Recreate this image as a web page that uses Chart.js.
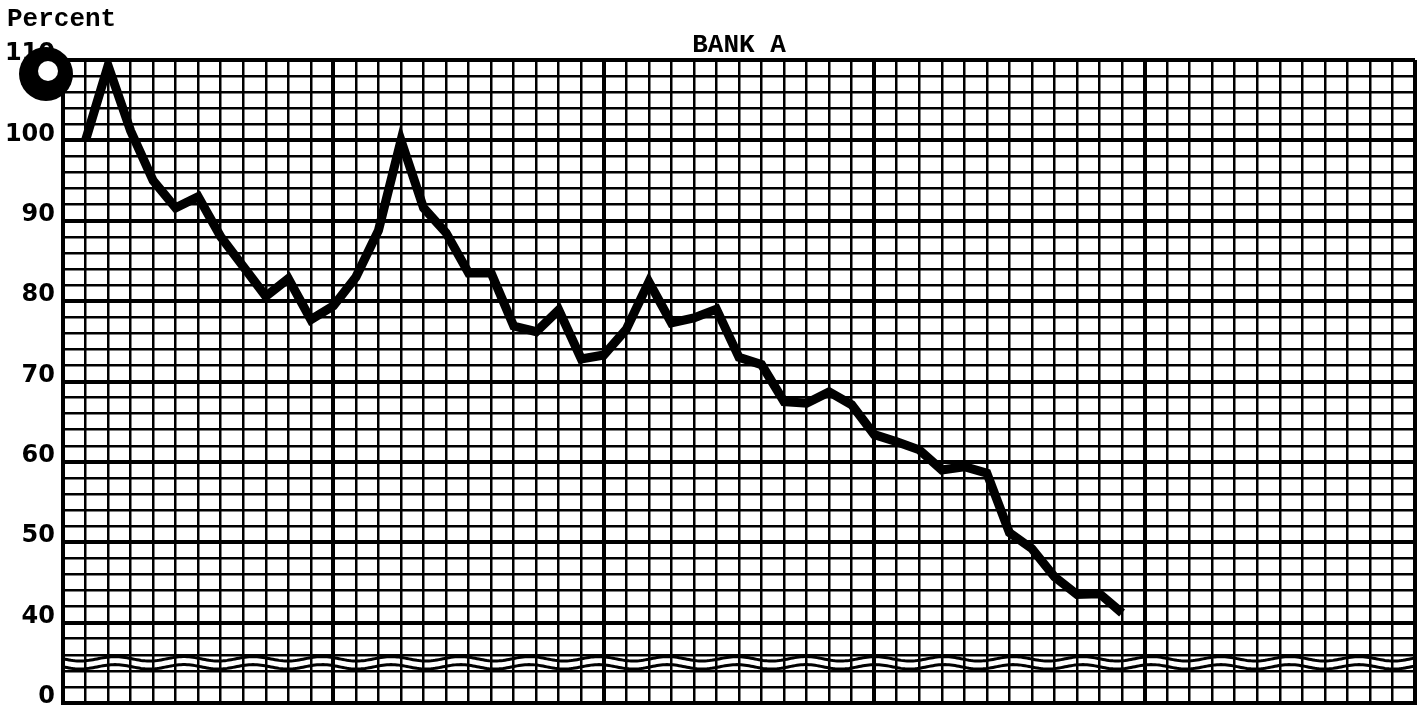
<!DOCTYPE html>
<html>
<head>
<meta charset="utf-8">
<script src="https://cdn.jsdelivr.net/npm/chart.js@4/dist/chart.umd.min.js"></script>
<style>
  html, body { margin: 0; padding: 0; background: #fff; }
  #wrap { width: 1423px; height: 706px; }
</style>
</head>
<body>
<div id="wrap"><canvas id="myChart"></canvas></div>
<script>
// monthly values, Bank A (percent); month 1 .. 47 of a 60-month sheet
var bankA = [
    100, 109.3, 101.2, 95, 91.6, 93, 88, 84.3, 80.6, 82.8,
    77.7, 79.4, 83, 88.8, 100, 91.6, 88.5, 83.5, 83.5, 76.9,
    76.2, 78.9, 72.8, 73.3, 76.5, 82.4, 77.3, 77.9, 79, 73,
    72.1, 67.5, 67.3, 68.7, 67.1, 63.4, 62.5, 61.5, 59, 59.4,
    58.6, 51.2, 49.2, 45.7, 43.5, 43.6, 41.2
];
var yTickLabels = [40, 50, 60, 70, 80, 90, 100, 110];
var breakValue = 35;     // where the axis is broken
var zeroAt = 30;         // bottom of sheet stands for 0
var monthsOnSheet = 60;

var points = bankA.map(function (v, i) { return { x: i + 1, y: v }; });

var paperPlugin = {
    id: 'paper',
    afterDraw: function (chart) {
        var ctx = chart.ctx, a = chart.chartArea, y = chart.scales.y;
        ctx.save();
        // axis break
        var yb = y.getPixelForValue(breakValue);
        ctx.strokeStyle = '#000';
        ctx.lineWidth = 3;
        [-4, 4].forEach(function (off) {
            ctx.beginPath();
            for (var x = a.left; x <= a.right; x += 2) {
                var yy = yb + off + Math.sin((x - a.left) / 11) * 2.2;
                if (x === a.left) ctx.moveTo(x, yy); else ctx.lineTo(x, yy);
            }
            ctx.stroke();
        });
        // "Percent"
        ctx.fillStyle = '#000';
        ctx.font = 'bold 26px "Liberation Mono"';
        ctx.textAlign = 'left';
        ctx.textBaseline = 'middle';
        ctx.fillText('Percent', 7, 19);
        // punch hole
        ctx.beginPath();
        ctx.arc(46, 74, 27, 0, Math.PI * 2);
        ctx.fill();
        ctx.fillStyle = '#fff';
        ctx.beginPath();
        ctx.arc(48, 71, 10, 0, Math.PI * 2);
        ctx.fill();
        ctx.restore();
    }
};

var ctx = document.getElementById('myChart').getContext('2d');
new Chart(ctx, {
    type: 'line',
    data: {
        datasets: [{
            label: 'Bank A',
            data: points,
            borderColor: '#000',
            borderWidth: 9,
            borderJoinStyle: 'miter',
            pointRadius: 0,
            tension: 0,
            fill: false
        }]
    },
    options: {
        responsive: true,
        maintainAspectRatio: false,
        animation: false,
        layout: { padding: { left: 0, right: 8, top: 0, bottom: 3 } },
        plugins: {
            legend: { display: false },
            tooltip: { enabled: false },
            title: {
                display: true,
                text: 'BANK A',
                fullSize: false,
                color: '#000',
                font: { family: 'Liberation Mono', size: 26, weight: 'bold', lineHeight: 1 },
                padding: { top: 32, bottom: 2 }
            }
        },
        scales: {
            x: {
                type: 'linear',
                min: 0,
                max: monthsOnSheet,
                ticks: { display: false, stepSize: 1, autoSkip: false },
                border: { display: true, color: '#000', width: 4 },
                grid: {
                    drawTicks: false,
                    color: '#000',
                    lineWidth: function (c) { return c.tick && c.tick.value % 12 === 0 ? 4 : 2.5; }
                },
                afterFit: function (s) { s.height = 0; s.paddingLeft = 0; s.paddingRight = 0; }
            },
            y: {
                min: zeroAt,
                max: 110,
                ticks: {
                    stepSize: 2,
                    autoSkip: false,
                    padding: 8,
                    labelOffset: -6,
                    color: '#000',
                    font: { family: 'DejaVu Sans', size: 24, weight: 'bold' },
                    callback: function (v) {
                        if (v === zeroAt) return '0';
                        return yTickLabels.indexOf(v) >= 0 ? String(v) : '';
                    }
                },
                border: { display: true, color: '#000', width: 4 },
                grid: {
                    drawTicks: false,
                    color: '#000',
                    lineWidth: function (c) { return c.tick && c.tick.value % 10 === 0 ? 4 : 2.5; }
                },
                afterFit: function (s) { s.width = 63; s.paddingTop = 0; s.paddingBottom = 0; }
            }
        }
    },
    plugins: [paperPlugin]
});
</script>
</body>
</html>
